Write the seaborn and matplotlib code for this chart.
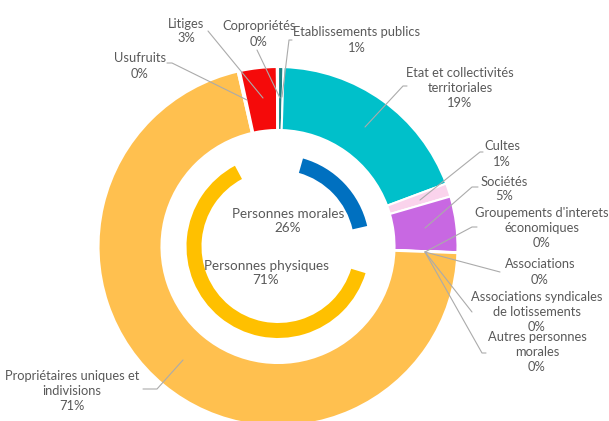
import matplotlib
matplotlib.use("Agg")
import matplotlib.pyplot as plt
import seaborn as sns

# ---------------- data ----------------
outer_labels = ["Etablissements publics", "Etat et collectivités\nterritoriales", "Cultes", "Sociétés",
                "Groupements d'interets\néconomiques", "Associations",
                "Associations syndicales\nde lotissements", "Autres personnes\nmorales",
                "Propriétaires uniques et\nindivisions", "Usufruits", "Litiges", "Copropriétés"]
outer_values = [0.5, 18.8, 1.2, 5.0, 0.02, 0.02, 0.02, 0.02, 70.8, 0.2, 3.3, 0.1]
outer_pct_text = ["1%", "19%", "1%", "5%", "0%", "0%", "0%", "0%", "71%", "0%", "3%", "0%"]

inner_labels = ["Personnes morales", "Personnes physiques"]
inner_pct_text = ["26%", "71%"]
# visible arc spans of the inner ring (percent of the full circle), with gaps
inner_segments = [4.4, 17.0, 8.3, 62.5, 7.8]   # gap, morales, gap, physiques, gap

# ---------------- style ----------------
sns.set_theme(style="white")
plt.rcParams["font.family"] = ["Lato", "DejaVu Sans"]

outer_colors = ["#1C8282", "#00C0CA", "#FAD3EC", "#C868E2", "#C868E2", "#FFC04F",
                "#FFC04F", "#FFC04F", "#FFC04F", "#FFFFFF", "#F50A0A", "#FFFFFF"]
inner_colors = ["none", "#0070C0", "none", "#FFC000", "none"]
text_color = "#595959"
line_color = "#ABABAB"

W, H = 609, 421
fig = plt.figure(figsize=(W / 100, H / 100), dpi=100)
ax = fig.add_axes([0, 0, 1, 1])


def P(x, y):
    return x, H - y


cx, cy = P(278, 246.5)
ax.pie(outer_values, colors=outer_colors, radius=179.5, center=(cx, cy),
       startangle=90, counterclock=False,
       wedgeprops=dict(width=63, edgecolor="white", linewidth=1.5))
ax.pie(inner_segments, colors=inner_colors, radius=91.5, center=(cx, cy),
       startangle=90, counterclock=False,
       wedgeprops=dict(width=15, edgecolor="none", linewidth=0))

ax.set_xlim(0, W)
ax.set_ylim(0, H)
ax.set_aspect("auto")
ax.axis("off")

fs = 9.3
# outer labels: leader line points and text centre (pixel coords)
layout = [
    ([(282, 97), (289, 40), (292, 40)], (357, 40)),
    ([(365, 127), (403, 86), (407, 86)], (460, 88)),
    ([(420, 200), (480, 152), (483, 152)], (502, 154)),
    ([(425, 228), (472, 187), (478, 187)], (504, 189)),
    ([(425, 252), (472, 227), (477, 227)], (542, 228)),
    ([(425, 252), (500, 272)], (540, 272)),
    ([(425, 252), (472, 312)], (537, 312)),
    ([(425, 252), (482, 353), (486, 353)], (537, 352)),
    ([(183, 360), (157, 389), (143, 389)], (72, 391)),
    ([(247, 100), (172, 63), (167, 63)], (140, 66)),
    ([(263, 98), (208, 31)], (186, 31)),
    ([(280, 98), (257, 50)], (259, 34)),
]
for lab, pct, (pts, (tx, ty)) in zip(outer_labels, outer_pct_text, layout):
    xs = [p[0] for p in pts]
    ys = [H - p[1] for p in pts]
    ax.plot(xs, ys, color=line_color, lw=0.8, zorder=3)
    ax.text(*P(tx, ty), f"{lab}\n{pct}", ha="center", va="center",
            fontsize=fs, color=text_color, linespacing=1.3, zorder=4)

# inner labels
for lab, pct, (tx, ty) in zip(inner_labels, inner_pct_text, [(288, 221), (266, 273)]):
    ax.text(*P(tx, ty), f"{lab}\n{pct}", ha="center", va="center",
            fontsize=fs + 0.4, color=text_color, linespacing=1.3, zorder=4)

fig.savefig("out.png", dpi=100)
